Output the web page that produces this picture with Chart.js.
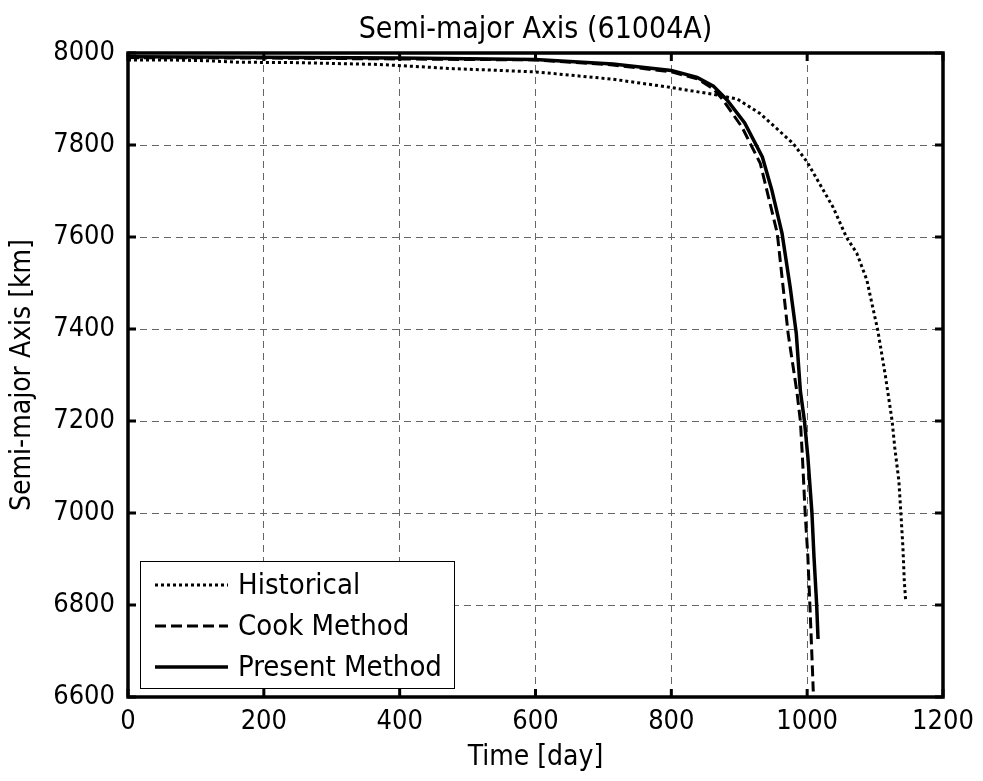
<!DOCTYPE html>
<html>
<head>
<meta charset="utf-8">
<script src="https://cdn.jsdelivr.net/npm/chart.js@4"></script>
<style>html,body{margin:0;padding:0;background:#fff}canvas{display:block}</style>
</head>
<body>
<canvas id="chart" width="983" height="781"></canvas>
<script>
var chartTitle = 'Semi-major Axis (61004A)';
var xAxisTitle = 'Time [day]';
var yAxisTitle = 'Semi-major Axis [km]';
var seriesNames = ['Historical', 'Cook Method', 'Present Method'];
var xTicks = [0, 200, 400, 600, 800, 1000, 1200];
var yTicks = [6600, 6800, 7000, 7200, 7400, 7600, 7800, 8000];

var historicalDays = [0, 60, 120, 160, 250, 371, 479, 600, 714, 800, 862, 897, 930, 979, 1000, 1038, 1058, 1073, 1088, 1092, 1104, 1115, 1125, 1129, 1135, 1138, 1141, 1143, 1145];
var historicalKm = [7985, 7985, 7983, 7980, 7979, 7975, 7966, 7959, 7943, 7925, 7910, 7900, 7869, 7804, 7763, 7665, 7599, 7565, 7506, 7478, 7397, 7300, 7201, 7142, 7070, 6999, 6925, 6853, 6809];

var cookDays = [0, 200, 400, 600, 714, 800, 838, 862, 876, 904, 931, 956, 972, 985, 990, 993, 997, 1001, 1004, 1007, 1009];
var cookKm = [7990, 7989, 7987, 7985, 7974, 7959, 7944, 7922, 7898, 7839, 7760, 7608, 7390, 7262, 7200, 7122, 7001, 6906, 6800, 6689, 6612];

var presentDays = [0, 200, 400, 600, 714, 800, 838, 862, 882, 908, 934, 948, 963, 975, 984, 990, 996, 1001, 1007, 1010, 1014, 1016];
var presentKm = [7992, 7991, 7989, 7986, 7976, 7962, 7947, 7928, 7898, 7848, 7774, 7702, 7608, 7491, 7390, 7265, 7200, 7122, 7001, 6906, 6800, 6726];

var FONT = 'Tahoma, "DejaVu Sans Condensed", "DejaVu Sans", sans-serif';
var TICK_SIZE = 27;
var LEGEND_SIZE = 29;
var TITLE_SIZE = 30;
var LABEL_SIZE = 28;

function toPoints(xs, ys) {
    return xs.map(function (x, i) { return { x: x, y: ys[i] }; });
}

// axes box with MATLAB style inner ticks
var framePlugin = {
    id: 'frame',
    afterDatasetsDraw: function (chart) {
        var ctx = chart.ctx, a = chart.chartArea;
        var sx = chart.scales.x, sy = chart.scales.y;
        ctx.save();
        ctx.strokeStyle = '#000';
        ctx.lineWidth = 3;
        ctx.setLineDash([]);
        ctx.beginPath();
        xTicks.forEach(function (v) {
            var px = sx.getPixelForValue(v);
            ctx.moveTo(px, a.bottom); ctx.lineTo(px, a.bottom - 8);
            ctx.moveTo(px, a.top); ctx.lineTo(px, a.top + 8);
        });
        yTicks.forEach(function (v) {
            var py = sy.getPixelForValue(v);
            ctx.moveTo(a.left, py); ctx.lineTo(a.left + 8, py);
            ctx.moveTo(a.right, py); ctx.lineTo(a.right - 8, py);
        });
        ctx.stroke();
        ctx.lineWidth = 3.5;
        ctx.strokeRect(a.left, a.top, a.right - a.left, a.bottom - a.top);
        ctx.restore();
    }
};

// legend box in the lower left corner of the axes
var legendPlugin = {
    id: 'boxLegend',
    afterDraw: function (chart) {
        var ctx = chart.ctx, a = chart.chartArea;
        var left = a.left + 12, top = a.bottom - 136, w = 314, h = 127;
        ctx.save();
        ctx.fillStyle = '#fff';
        ctx.fillRect(left, top, w, h);
        ctx.strokeStyle = '#000';
        ctx.lineWidth = 1;
        ctx.strokeRect(left + 0.5, top + 0.5, w, h);
        ctx.font = LEGEND_SIZE + 'px ' + FONT;
        ctx.textBaseline = 'middle';
        ctx.fillStyle = '#000';
        chart.data.datasets.forEach(function (ds, i) {
            var y = top + 24 + i * 41;
            ctx.beginPath();
            ctx.lineWidth = ds.borderWidth;
            ctx.setLineDash(ds.borderDash || []);
            ctx.moveTo(left + 15, y);
            ctx.lineTo(left + 88, y);
            ctx.stroke();
            ctx.setLineDash([]);
            ctx.fillText(ds.label, left + 98, y + 1);
        });
        ctx.restore();
    }
};

var ctx = document.getElementById('chart').getContext('2d');
new Chart(ctx, {
    type: 'line',
    data: {
        datasets: [
            { label: seriesNames[0], data: toPoints(historicalDays, historicalKm), borderColor: '#000', borderWidth: 3, borderDash: [3, 3], pointRadius: 0, fill: false, tension: 0 },
            { label: seriesNames[1], data: toPoints(cookDays, cookKm), borderColor: '#000', borderWidth: 3, borderDash: [11, 5], pointRadius: 0, fill: false, tension: 0 },
            { label: seriesNames[2], data: toPoints(presentDays, presentKm), borderColor: '#000', borderWidth: 3.5, pointRadius: 0, fill: false, tension: 0 }
        ]
    },
    options: {
        responsive: false,
        animation: false,
        devicePixelRatio: 1,
        layout: { padding: { left: 0, right: 40, top: 0, bottom: 0 } },
        plugins: {
            legend: { display: false },
            tooltip: { enabled: false },
            title: {
                display: true,
                fullSize: false,
                text: chartTitle,
                color: '#000',
                font: { family: FONT, size: TITLE_SIZE, weight: 'normal' },
                padding: { top: 12, bottom: 5 }
            }
        },
        scales: {
            x: {
                type: 'linear',
                min: 0,
                max: 1200,
                afterBuildTicks: function (s) { s.ticks = xTicks.map(function (v) { return { value: v }; }); },
                afterFit: function (s) { s.height = 84; },
                ticks: { color: '#000', padding: 9, font: { family: FONT, size: TICK_SIZE }, callback: function (v) { return String(v); } },
                grid: { color: '#666', lineWidth: 1, drawTicks: false },
                border: { display: false, dash: [7, 5] },
                title: { display: true, text: xAxisTitle, color: '#000', font: { family: FONT, size: LABEL_SIZE }, padding: { top: 0, bottom: 6 } }
            },
            y: {
                type: 'linear',
                min: 6600,
                max: 8000,
                afterBuildTicks: function (s) { s.ticks = yTicks.map(function (v) { return { value: v }; }); },
                afterFit: function (s) { s.width = 128; },
                ticks: { color: '#000', padding: 13, font: { family: FONT, size: TICK_SIZE }, callback: function (v) { return String(v); } },
                grid: { color: '#666', lineWidth: 1, drawTicks: false },
                border: { display: false, dash: [7, 5] },
                title: { display: true, text: yAxisTitle, color: '#000', font: { family: FONT, size: LABEL_SIZE }, padding: { top: 6, bottom: 0 } }
            }
        }
    },
    plugins: [framePlugin, legendPlugin]
});
</script>
</body>
</html>
